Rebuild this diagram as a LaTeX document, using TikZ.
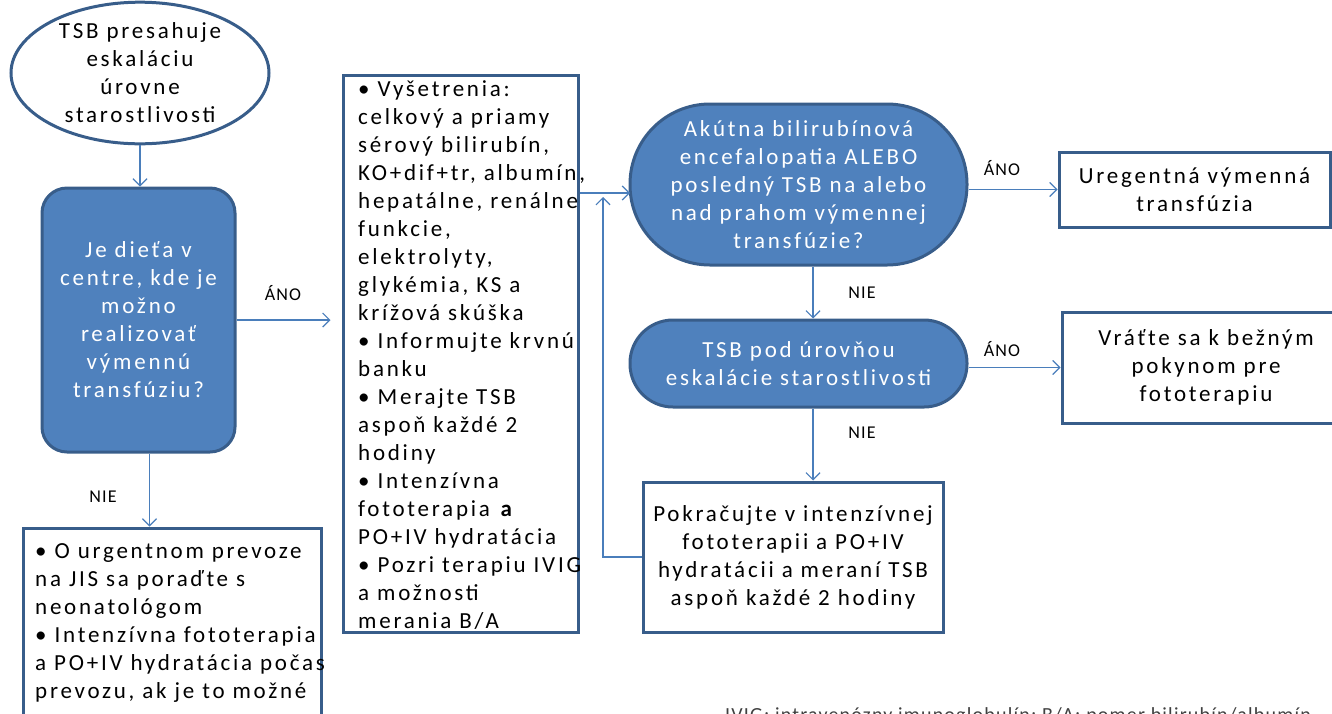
\documentclass[tikz,border=0pt]{standalone}
\usepackage{fontspec}
\setmainfont{Carlito}[LetterSpace=12]
\newfontfamily\lblfont{Carlito}[LetterSpace=6]
\usetikzlibrary{arrows.meta,shapes.geometric,calc}
\definecolor{accent}{HTML}{4F81BD}
\definecolor{bordr}{HTML}{385D8A}
\definecolor{linkc}{HTML}{4A7EBB}
\tikzset{
 txt/.style={font=\fontsize{23}{28}\selectfont, inner sep=0pt},
 bluebox/.style={draw=bordr, line width=3pt, fill=accent, text=white, align=center, txt},
 whitebox/.style={draw=bordr, line width=3pt, fill=white, txt},
 lbl/.style={font=\lblfont\fontsize{18}{20}\selectfont, inner sep=0pt},
 link/.style={draw=linkc, line width=1.2pt, -{Straight Barb[length=7pt,width=14pt]}},
}
\begin{document}
\begin{tikzpicture}[x=1pt,y=-1pt]
\useasboundingbox (0,0) rectangle (1332,713);
\clip (0,0) rectangle (1332,713);

\node[ellipse, draw=bordr, line width=3pt, fill=white, minimum width=258pt, minimum height=128pt, align=center, txt] (e0) at (140,73) {TSB presahuje\\eskaláciu\\úrovne\\starostlivosti};

\node[bluebox, rounded corners=25pt, minimum width=193pt, minimum height=264pt] (b1) at (138.5,320) {Je dieťa v\\centre, kde je\\možno\\realizovať\\výmennú\\transfúziu?};

\node[whitebox, minimum width=235pt, minimum height=557pt] (m1) at (460.5,353.5) {};
\node[txt, align=left, anchor=west] (m1t) at (358,355) {• Vyšetrenia:\\celkový a priamy\\sérový bilirubín,\\KO+dif+tr, albumín,\\hepatálne, renálne\\funkcie,\\elektrolyty,\\glykémia, KS a\\krížová skúška\\• Informujte krvnú\\banku\\• Merajte TSB\\aspoň každé 2\\hodiny\\• Intenzívna\\fototerapia \textbf{a}\\PO+IV hydratácia\\• Pozri terapiu IVIG\\a možnosti\\merania B/A};

\node[whitebox, minimum width=298pt, minimum height=230pt] (n1) at (172,643) {};
\node[txt, align=left, anchor=west] (n1t) at (35,622.5) {• O urgentnom prevoze\\na JIS sa poraďte s\\neonatológom\\• Intenzívna fototerapia\\a PO+IV hydratácia počas\\prevozu, ak je to možné};

\node[bluebox, rounded corners=80pt, minimum width=337pt, minimum height=161pt] (d1) at (798.5,184.5) {Akútna bilirubínová\\encefalopatia ALEBO\\posledný TSB na alebo\\nad prahom výmennej\\transfúzie?};

\node[bluebox, rounded corners=43pt, minimum width=337pt, minimum height=87pt] (d2) at (798.5,363.5) {TSB pod úrovňou\\eskalácie starostlivosti};

\node[whitebox, minimum width=271pt, minimum height=75pt, align=center] (r1) at (1194.5,189.5) {Uregentná výmenná\\transfúzia};
\node[whitebox, minimum width=288pt, minimum height=111pt, align=center] (r2) at (1206,367.5) {Vráťte sa k bežným\\pokynom pre\\fototerapiu};
\node[whitebox, minimum width=300pt, minimum height=150pt, align=center] (p1) at (793,557) {Pokračujte v intenzívnej\\fototerapii a PO+IV\\hydratácii a meraní TSB\\aspoň každé 2 hodiny};

\draw[link] (e0.south) -- (e0.south |- b1.north);
\draw[link] ([xshift=11pt]b1.south) -- ([xshift=11pt]b1.south |- n1.north);
\draw[link, shorten >=11pt] (b1.east) -- (b1.east -| m1.west);
\coordinate (a1) at (630,193);
\draw[link] (m1.east |- a1) -- (a1);
\coordinate (lt) at (603,197);
\draw[link] (p1.west) -| (lt);
\draw[link] (r1.west -| d1.east) -- (r1.west);
\draw[link] ([xshift=14.5pt]d1.south) -- ([xshift=14.5pt]d1.south |- d2.north);
\draw[link] (r2.west -| d2.east) -- (r2.west);
\draw[link] ([xshift=14.5pt]d2.south) -- ([xshift=14.5pt]d2.south |- p1.north);

\node[lbl] (l1) at (283,293) {ÁNO};
\node[lbl] (l2) at (103,497) {NIE};
\node[lbl] (l3) at (1002,168) {ÁNO};
\node[lbl] (l4) at (862,293) {NIE};
\node[lbl] (l5) at (1002,349) {ÁNO};
\node[lbl] (l6) at (862,433) {NIE};

\node[lbl, font=\lblfont\fontsize{20}{22}\selectfont, anchor=base west, text=black!75] (fn) at (725,721) {IVIG: intravenózny imunoglobulín; B/A: pomer bilirubín/albumín};
\end{tikzpicture}
\end{document}
